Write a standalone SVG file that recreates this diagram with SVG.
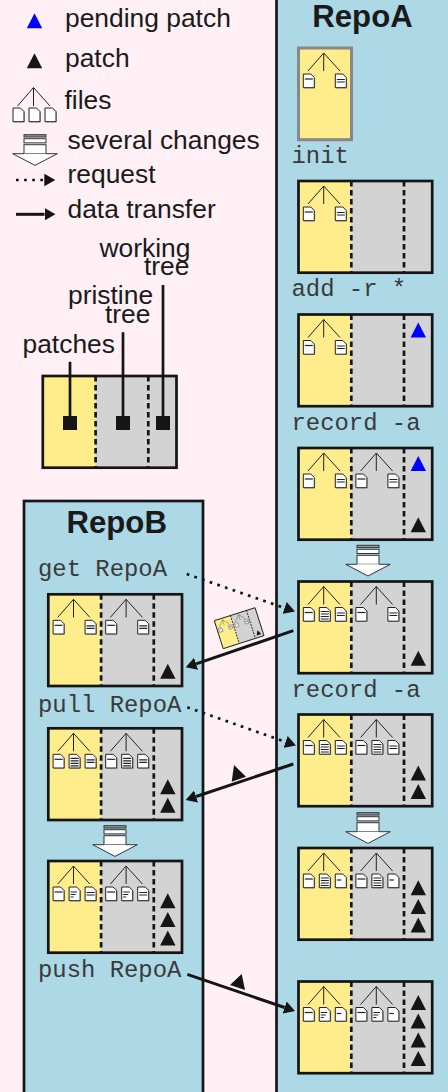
<svg xmlns="http://www.w3.org/2000/svg" width="448" height="1092" viewBox="0 0 448 1092">
<style>
text{fill:#1a1a1a}
.s{font-family:"Liberation Sans",Arial,sans-serif;font-size:26.4px}
.t{font-family:"Liberation Sans",Arial,sans-serif;font-size:31.2px;font-weight:bold;text-anchor:middle}
.m{font-family:"Liberation Mono","Courier New",monospace;font-size:23.9px;fill:#3a3a3a}
.panel{fill:#add8e6;stroke:#151515;stroke-width:2.7}
.edge{fill:none;stroke:#151515;stroke-width:3}
.dot{fill:none;stroke:#151515;stroke-width:2.7;stroke-dasharray:2.7 5.4}
.pole{fill:none;stroke:#151515;stroke-width:2.7}
.thin{fill:none;stroke:#222;stroke-width:1}
.tri{fill:#151515}
.blue{fill:#00f}
.fl{fill:#fff;stroke:#222;stroke-width:1}
.ln{fill:none;stroke:#222;stroke-width:1.2}
.bar{fill:#fff;stroke:#333;stroke-width:1}
.yl{fill:#ffec8b}
.gr{fill:#d3d3d3}
.div{fill:none;stroke:#151515;stroke-width:2.7;stroke-dasharray:5.5 3.5}
</style>
<defs>
<marker id="head" markerUnits="userSpaceOnUse" markerWidth="13" markerHeight="13" refX="0" refY="6.3" orient="auto"><path class="tri" d="M0 0L11 6.3L0 12.6Z"/></marker>
<path id="p" class="tri" d="M0 0L7.7 15H-7.7Z"/>
<path id="pb" class="blue" d="M0 0L7.7 15H-7.7Z"/>
<g id="f0"><path d="M.8 .8H8L11.8 4.5V14.5H.8Z" fill="#aaa"/><path class="fl" d="M0 0H7.5L11 3.5V13.7H0Z"/></g>
<g id="fa"><use href="#f0"/><path class="ln" d="M1.5 5H9.5"/></g>
<g id="fb"><use href="#f0"/><path class="ln" d="M1.5 5.5H9.5M1.5 8H9.5"/></g>
<g id="fc"><use href="#f0"/><path class="ln" d="M1.5 4H9.5M1.5 6.5H9.5M1.5 9H9.5M1.5 11.5H9.5"/></g>
<g id="fd"><use href="#f0"/><path class="ln" d="M1.5 6H6"/></g>
<g id="fe"><use href="#f0"/><path class="ln" d="M1.5 5H8M1.5 7.5H6.5M1.5 10H4.5"/></g>
<g id="tree"><path class="thin" d="M9.5 23L25.2 5L41.5 23M25.2 5V23"/></g>
<g id="frame"><rect class="gr" width="133.7" height="91.7"/><rect class="yl" width="52.8" height="91.7"/><path class="div" d="M52.8 0V91.7M105.5 0V91.7"/><rect class="pole" width="133.7" height="91.7"/></g>
<g id="two"><use href="#tree"/><use href="#fa" x="4.8" y="26"/><use href="#fb" x="36.8" y="26"/></g>
<g id="big"><rect x="-11" y="0" width="22" height="2.3" fill="#999" stroke="#333"/><rect class="bar" x="-11" y="4" width="22" height="4.2"/><rect class="bar" x="-11" y="10" width="22" height="9"/><path class="bar" d="M-11 19H-22.3L0 30.7L22.3 19H11"/></g>
</defs>

<rect width="448" height="1092" fill="#fff0f5"/>
<rect id="repoA-panel" class="panel" x="276.5" y="-5" width="180" height="1105"/>
<rect id="repoB-panel" class="panel" x="24" y="501" width="179" height="600"/>
<text class="t" x="362.5" y="27.3">RepoA</text>
<text class="t" x="116.7" y="533">RepoB</text>

<g id="legend-pending"><use href="#pb" x="34.5" y="13.3"/><text class="s" x="65" y="26.7">pending patch</text></g>
<g id="legend-patch"><use href="#p" x="34.5" y="53.3"/><text class="s" x="65" y="66.7">patch</text></g>
<g id="legend-files"><path class="thin" d="M17.5 106L33.5 87.5L50 106M33.5 87.5V106"/><use href="#f0" x="13" y="108"/><use href="#f0" x="29" y="108"/><use href="#f0" x="45" y="108"/><text class="s" x="64.5" y="109.3">files</text></g>
<g id="legend-changes"><use href="#big" x="35" y="134.7"/><text class="s" x="67.5" y="149.3">several changes</text></g>
<g id="legend-request"><text class="s" x="67.5" y="183.3">request</text></g>
<g id="legend-transfer"><text class="s" x="67.5" y="218.3">data transfer</text></g>

<g id="anatomy">
<use href="#frame" x="42.8" y="376"/>
<path class="pole" d="M70 361.7V420M123 332.3V420M163 285V420"/>
<rect class="tri" x="63" y="416" width="14" height="14"/><rect class="tri" x="116" y="416" width="14" height="14"/><rect class="tri" x="156" y="416" width="14" height="14"/>
<text class="s" x="99.5" y="256.7">working</text><text class="s" x="144" y="275">tree</text>
<text class="s" x="68" y="304">pristine</text><text class="s" x="105" y="323.3">tree</text>
<text class="s" x="22.5" y="352.7">patches</text>
</g>

<g id="a-init"><rect x="298.5" y="48" width="53" height="91.7" class="yl" stroke="#888" stroke-width="3"/><use href="#two" x="298.5" y="48"/><text class="m" x="291.5" y="163">init</text></g>
<g id="a-add" transform="translate(298.5 181)"><use href="#frame"/><use href="#two"/><text class="m" x="-7" y="115">add -r *</text></g>
<g id="a-record" transform="translate(298.5 314.5)"><use href="#frame"/><use href="#two"/><use href="#pb" x="119.8" y="8"/><text class="m" x="-7" y="115.5">record -a</text></g>
<g id="a-recorded" transform="translate(298.5 448)"><use href="#frame"/><use href="#two"/><use href="#two" x="52.6"/><use href="#pb" x="119.8" y="8"/><use href="#p" x="119.8" y="69.3"/></g>
<g id="a-change1"><use href="#big" x="368" y="545.3"/></g>
<g id="a-three" transform="translate(298.5 581.5)"><use href="#frame"/><use href="#two"/><use href="#fc" x="20.8" y="26"/><use href="#two" x="52.6"/><use href="#p" x="119.8" y="69.3"/><text class="m" x="-7" y="115">record -a</text></g>
<g id="a-pulled" transform="translate(298.5 714.5)"><use href="#frame"/><use href="#two"/><use href="#fc" x="20.8" y="26"/><use href="#two" x="52.6"/><use href="#fc" x="73.4" y="26"/><use href="#p" x="119.8" y="51"/><use href="#p" x="119.8" y="69.5"/></g>
<g id="a-change2"><use href="#big" x="368" y="812.7"/></g>
<g id="a-more" transform="translate(298.5 848)"><use href="#frame"/><use href="#tree"/><use href="#tree" x="52.6"/><use href="#fa" x="4.8" y="26"/><use href="#fc" x="20.8" y="26"/><use href="#fd" x="36.8" y="26"/><use href="#fa" x="57.4" y="26"/><use href="#fc" x="73.4" y="26"/><use href="#fd" x="89.4" y="26"/><use href="#p" x="119.8" y="32.3"/><use href="#p" x="119.8" y="51"/><use href="#p" x="119.8" y="69.5"/></g>
<g id="a-pushed" transform="translate(298.5 981.5)"><use href="#frame"/><use href="#tree"/><use href="#tree" x="52.6"/><use href="#fa" x="4.8" y="26"/><use href="#fe" x="20.8" y="26"/><use href="#fd" x="36.8" y="26"/><use href="#fa" x="57.4" y="26"/><use href="#fe" x="73.4" y="26"/><use href="#fd" x="89.4" y="26"/><use href="#p" x="119.8" y="13.5"/><use href="#p" x="119.8" y="32"/><use href="#p" x="119.8" y="51"/><use href="#p" x="119.8" y="69.5"/></g>

<g id="b-get"><text class="m" x="38" y="575.7">get RepoA</text></g>
<g id="b-one" transform="translate(48.3 594.3)"><use href="#frame"/><use href="#two"/><use href="#two" x="52.6"/><use href="#p" x="119.5" y="69.5"/></g>
<g id="b-pull"><text class="m" x="38" y="711.7">pull RepoA</text></g>
<g id="b-two" transform="translate(48.3 728.3)"><use href="#frame"/><use href="#two"/><use href="#fc" x="20.8" y="26"/><use href="#two" x="52.6"/><use href="#fc" x="73.4" y="26"/><use href="#p" x="119.5" y="51"/><use href="#p" x="119.5" y="69.5"/></g>
<g id="b-change"><use href="#big" x="115" y="825.7"/></g>
<g id="b-three" transform="translate(48.3 861)"><use href="#frame"/><use href="#two"/><use href="#fe" x="20.8" y="26"/><use href="#two" x="52.6"/><use href="#fe" x="73.4" y="26"/><use href="#p" x="119.5" y="32.3"/><use href="#p" x="119.5" y="51"/><use href="#p" x="119.5" y="69.5"/></g>
<g id="b-push"><text class="m" x="38" y="977.3">push RepoA</text></g>

<g id="connectors">
<path class="dot" marker-end="url(#head)" d="M16 180H44.3"/>
<path class="edge" marker-end="url(#head)" d="M16 214.3H44.5"/>
<path class="dot" marker-end="url(#head)" d="M186.7 574L284.6 608"/>
<path class="dot" marker-end="url(#head)" d="M187.3 707.3L285.6 741.9"/>
<path class="edge" marker-end="url(#head)" d="M293.3 630.7L196.1 663.8"/>
<path class="edge" marker-end="url(#head)" d="M293.3 764L196.1 796.5"/>
<path class="edge" marker-end="url(#head)" d="M187.3 974.3L284.6 1007.5"/>
<g id="thumb" transform="translate(214.3 620.7) rotate(-17.7) scale(.32)"><use href="#frame"/><use href="#two"/><use href="#two" x="52.6"/><use href="#p" x="119.5" y="69.5"/></g>
<path class="tri" d="M234 765L246 776.7L231.7 781.7Z"/>
<path class="tri" d="M241.7 974L245 990L230 985Z"/>
</g>
</svg>
